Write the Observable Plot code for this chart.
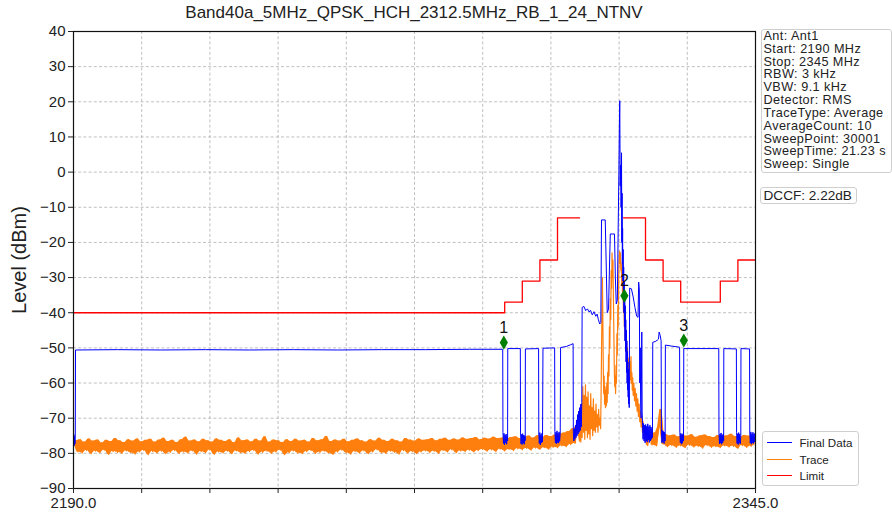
<!DOCTYPE html>
<html><head><meta charset="utf-8">
<script src="https://cdn.jsdelivr.net/npm/d3@7"></script>
<script src="https://cdn.jsdelivr.net/npm/@observablehq/plot@0.6"></script>
<style>
body{margin:0;background:#fff;font-family:"Liberation Sans",Arial,sans-serif;color:#222}
#wrap{position:relative;width:892px;height:519px;overflow:hidden}
.ov{position:absolute;white-space:nowrap}
.box{border:1px solid #cfcfcf;border-radius:3px;background:#fff;box-sizing:border-box}
</style>
</head><body><div id="wrap"></div>
<script>
// ---------- data ----------
const chartTitle = "Band40a_5MHz_QPSK_HCH_2312.5MHz_RB_1_24_NTNV";
const yLabel = "Level (dBm)";
const freqDomain = [2190, 2345];
const xTickStep = 15.5;
const levelDomain = [-90, 40];
const infoLines = ["Ant: Ant1","Start: 2190 MHz","Stop: 2345 MHz","RBW: 3 kHz","VBW: 9.1 kHz","Detector: RMS","TraceType: Average","AverageCount: 10","SweepPoint: 30001","SweepTime: 21.23 s","Sweep: Single"];
const dccfText = "DCCF: 2.22dB";
const seriesNames = ["Final Data","Trace","Limit"];
const seriesColors = ["#0000ff","#ff7f0e","#ff0000"];

// Limit segments: start MHz, end MHz, level dBm, side
const limitStart = [2190, 2288, 2292, 2296, 2300, 2315, 2320, 2324, 2328, 2337, 2341];
const limitEnd   = [2288, 2292, 2296, 2300, 2305, 2320, 2324, 2328, 2337, 2341, 2345];
const limitLevel = [-40, -37, -31, -25, -13, -13, -25, -31, -37, -31, -25];
const limitSide  = ["L","L","L","L","L","R","R","R","R","R","R"];

// Markers
const markerFreq  = [2287.8, 2315.2, 2328.7];
const markerLevel = [-48.5, -35.2, -47.9];
const markerLabel = ["1", "2", "3"];

// Trace (orange): noise floor sampled every 0.5 MHz from 2190 to 2304.5
const noiseLeftStart = 2190, noiseStep = 0.5;
const noiseLeft = [
-77.8,-76.4,-79.6,-76.1,-79.9,-76.8,-79.2,-75.9,-80.1,-76.5,-79.4,-76.2,-79.8,-77.0,-79.1,-76.3,-80.3,-76.6,-79.5,-75.8,
-79.7,-76.4,-80.0,-76.9,-79.3,-76.1,-79.8,-76.5,-80.2,-75.9,-79.6,-76.7,-79.2,-76.3,-80.4,-76.0,-79.5,-76.8,-79.9,-76.2,
-79.4,-75.7,-80.1,-76.6,-79.7,-76.3,-79.2,-76.9,-80.0,-76.1,-79.6,-75.4,-79.9,-76.5,-79.3,-76.2,-80.2,-76.7,-79.5,-76.0,
-79.8,-76.4,-79.1,-76.8,-80.3,-75.9,-79.6,-76.3,-79.9,-76.6,-79.4,-76.1,-80.1,-76.9,-79.3,-75.6,-79.8,-76.4,-80.0,-76.2,
-79.5,-76.7,-79.2,-76.0,-80.2,-76.5,-79.7,-75.3,-79.4,-76.8,-80.0,-76.2,-79.6,-76.4,-79.1,-76.9,-80.4,-76.1,-79.8,-76.6,
-79.3,-76.0,-79.9,-76.5,-80.1,-76.3,-79.5,-76.8,-79.2,-75.8,-80.0,-76.4,-79.7,-76.1,-79.4,-75.2,-79.9,-76.6,-80.3,-76.2,
-79.6,-76.5,-79.1,-76.0,-79.8,-76.7,-80.2,-76.3,-79.5,-75.9,-79.9,-76.4,-79.3,-76.8,-80.1,-76.1,-79.6,-76.5,-79.0,-75.7,
-79.8,-76.3,-80.0,-76.6,-79.4,-76.0,-79.7,-76.4,-80.2,-76.8,-79.2,-75.8,-79.9,-76.2,-79.5,-76.5,-80.1,-75.9,-79.6,-76.3,
-79.3,-76.1,-79.7,-75.8,-79.4,-76.4,-80.0,-76.0,-79.2,-75.7,-79.6,-76.3,-79.0,-75.9,-79.8,-76.2,-79.3,-75.6,-79.5,-76.0,
-79.1,-75.8,-79.6,-75.5,-79.2,-76.1,-78.9,-75.7,-79.4,-75.9,-79.0,-75.4,-79.5,-75.8,-78.8,-75.6,-79.3,-75.9,-78.9,-75.5,
-79.2,-75.3,-78.7,-75.8,-79.0,-75.4,-78.6,-75.1,-79.1,-75.6,-78.5,-75.0,-78.9,-75.5,-78.4,-74.9,-78.8,-75.2,-78.3,-74.8,
-78.4,-74.6,-77.9,-74.2,-78.1,-73.8,-77.5,-73.0,-77.2,-72.2
];
// Trace around the carrier (MHz, dBm)
const traceCenter = [
[2305.0,-76.5],[2305.15,-71.0],[2305.3,-76.8],[2305.45,-66.0],[2305.6,-75.5],[2305.75,-61.0],[2305.9,-74.0],[2306.05,-63.5],
[2306.2,-76.0],[2306.35,-60.5],[2306.5,-73.5],[2306.65,-64.0],[2306.8,-75.5],[2306.95,-62.5],[2307.1,-74.5],[2307.25,-66.5],
[2307.4,-76.0],[2307.55,-63.0],[2307.7,-73.0],[2307.85,-67.0],[2308.0,-75.0],[2308.15,-64.5],[2308.3,-73.5],[2308.45,-68.0],
[2308.6,-74.0],[2308.75,-66.0],[2308.9,-72.5],[2309.05,-69.0],[2309.2,-74.0],[2309.35,-67.5],[2309.5,-72.0],[2309.65,-70.0],
[2309.8,-73.0],[2309.9,-64.0],[2310.0,-52.0],[2310.1,-40.0],[2310.2,-30.0],[2310.3,-41.0],[2310.4,-55.0],[2310.5,-63.0],
[2310.6,-58.0],[2310.7,-66.0],[2310.8,-61.0],[2310.9,-67.0],[2311.0,-62.0],[2311.1,-66.5],[2311.2,-60.0],[2311.3,-65.5],
[2311.4,-57.0],[2311.5,-63.0],[2311.6,-52.0],[2311.7,-58.0],[2311.8,-44.0],[2311.9,-50.0],[2312.0,-36.0],[2312.1,-42.0],
[2312.2,-28.0],[2312.3,-33.0],[2312.4,-23.0],[2312.5,-30.0],[2312.6,-25.0],[2312.7,-35.0],[2312.8,-45.0],[2312.9,-55.0],
[2313.0,-61.0],[2313.1,-58.0],[2313.2,-63.0],[2313.3,-55.0],[2313.4,-60.0],[2313.5,-46.0],[2313.6,-52.0],[2313.7,-38.0],
[2313.8,-44.0],[2313.9,-30.0],[2314.0,-25.0],[2314.1,-22.5],[2314.2,-26.0],[2314.3,-23.0],[2314.4,-28.0],[2314.5,-26.0],
[2314.6,-32.0],[2314.7,-30.0],[2314.8,-36.0],[2314.9,-34.0],[2315.0,-40.0],[2315.1,-38.0],[2315.2,-44.0],[2315.3,-42.0],
[2315.4,-48.0],[2315.5,-45.0],[2315.6,-51.0],[2315.7,-48.0],[2315.8,-53.0],[2315.9,-50.0],[2316.0,-56.0],[2316.1,-53.0],
[2316.2,-58.0],[2316.3,-55.0],[2316.4,-60.0],[2316.5,-54.0],[2316.6,-59.0],[2316.7,-52.5],[2316.8,-60.0],[2316.9,-57.0],
[2317.0,-62.0],[2317.1,-58.5],[2317.2,-63.5],[2317.35,-60.0],[2317.5,-65.0],[2317.65,-61.5],[2317.8,-66.5],[2317.95,-63.0],
[2318.1,-68.0],[2318.25,-64.5],[2318.4,-69.5],[2318.55,-66.0],[2318.7,-71.0],[2318.85,-68.0],[2319.0,-72.5],[2319.15,-69.5],
[2319.3,-74.0],[2319.45,-71.0],[2319.6,-75.5],[2319.75,-72.5],[2319.9,-76.5],[2320.05,-73.0],[2320.2,-77.5],[2320.35,-73.5],
[2320.5,-77.8]
];
// Trace noise floor every 0.5 MHz from 2321 to 2345
const noiseRightStart = 2321;
const noiseRight = [
-73.8,-77.6,-74.2,-77.9,-72.5,-67.5,-77.4,-74.6,
-78.1,-75.0,-77.8,-74.8,-78.3,-75.3,-77.9,-74.9,-78.4,-75.1,-77.7,-74.7,-78.2,-75.4,-78.0,-75.0,-78.5,-74.8,-77.8,-75.2,
-78.3,-75.5,-78.1,-74.9,-78.4,-75.3,-77.9,-75.0,-78.2,-74.6,-78.0,-75.2,-78.6,-75.4,-77.8,-74.9,-78.3,-75.1,-78.0,-75.3,-77.8
];

// Final Data (blue): (MHz, dBm)
const finalLeft = [
[2190.00,-77.0],[2190.08,-74.6],[2190.16,-77.8],[2190.24,-75.2],[2190.32,-77.3],[2190.40,-75.8],[2190.46,-50.6],
[2200,-50.5],[2210,-50.6],[2220,-50.5],[2230,-50.6],[2240,-50.5],[2250,-50.6],[2260,-50.5],[2270,-50.5],[2280,-50.4],[2287.55,-50.4],
[2287.60,-74.0],[2287.72,-77.2],[2287.84,-74.3],[2287.96,-77.6],[2288.08,-74.8],[2288.20,-77.0],[2288.32,-74.5],[2288.44,-77.4],[2288.56,-75.0],[2288.66,-76.5],[2288.70,-50.2],
[2291.55,-50.2],
[2291.60,-74.2],[2291.72,-77.3],[2291.84,-74.6],[2291.96,-77.5],[2292.08,-74.4],[2292.20,-77.1],[2292.32,-74.8],[2292.44,-77.4],[2292.56,-75.0],[2292.66,-76.4],[2292.70,-50.3],
[2295.70,-50.2],
[2295.75,-74.5],[2295.87,-77.2],[2295.99,-74.1],[2296.11,-77.6],[2296.23,-74.7],[2296.35,-77.0],[2296.47,-74.3],[2296.59,-76.8],[2296.70,-50.1],
[2299.35,-50.0],
[2299.40,-73.8],[2299.52,-77.0],[2299.64,-74.0],[2299.76,-77.3],[2299.88,-73.6],[2300.00,-76.9],[2300.12,-74.2],[2300.24,-77.1],[2300.36,-73.9],[2300.48,-76.6],[2300.62,-74.5],[2300.70,-49.9],
[2302.0,-49.6],[2303.0,-49.1],[2303.55,-48.8],
[2303.60,-74.0],[2303.72,-76.5],[2303.84,-73.0],[2303.96,-76.0],[2304.08,-72.0],[2304.20,-75.5],[2304.32,-70.5],[2304.44,-75.0],
[2304.56,-69.0],[2304.68,-74.5],[2304.80,-68.0],[2304.92,-74.0],[2305.04,-67.0],[2305.16,-73.5],[2305.28,-66.0],[2305.40,-72.5],[2305.52,-65.5]
];
const finalCenter = [
[2305.60,-38.5],[2306.0,-38.2],[2306.4,-39.4],[2306.8,-38.9],[2307.2,-39.8],[2307.5,-39.3],[2307.9,-40.6],[2308.3,-39.7],
[2308.7,-41.0],[2309.0,-40.4],[2309.3,-42.0],[2309.6,-43.2],[2309.85,-42.8],
[2310.0,-13.6],[2310.85,-13.6],[2311.05,-25.0],[2311.3,-40.0],[2311.6,-39.0],[2311.85,-25.0],
[2312.0,-17.6],[2312.95,-17.6],[2313.15,-30.0],[2313.35,-37.5],[2313.6,-36.5],
[2313.8,-15.0],[2313.95,0.0],[2314.05,12.0],[2314.15,20.3],[2314.25,-4.0],[2314.35,2.0],[2314.45,-10.0],[2314.55,5.5],
[2314.62,-20.0],[2314.68,-6.0],[2314.74,-26.0],[2314.80,-16.0],[2314.86,-31.0],[2314.92,-22.0],[2314.98,-36.0],[2315.04,-27.0],
[2315.10,-40.0],[2315.16,-31.0],[2315.22,-44.0],[2315.28,-35.0],[2315.34,-48.0],[2315.40,-38.0],[2315.46,-51.0],[2315.52,-42.0],
[2315.58,-54.0],[2315.64,-45.0],[2315.70,-57.0],[2315.76,-48.0],[2315.82,-60.0],[2315.88,-51.0],[2315.94,-62.0],[2316.00,-54.0],
[2316.06,-64.0],[2316.12,-56.0],[2316.18,-66.0],[2316.24,-58.0],[2316.30,-67.0]
];
const finalRight = [
[2316.4,-33.0],[2316.8,-33.2],[2317.2,-35.5],[2317.6,-38.5],[2318.0,-41.0],[2318.3,-41.3],[2318.45,-31.3],[2318.6,-33.5],
[2318.7,-60.0],[2318.8,-50.0],[2318.9,-66.0],[2319.0,-70.0],[2319.08,-58.0],[2319.16,-45.5],[2319.24,-68.0],[2319.32,-72.0],
[2319.44,-76.0],[2319.56,-71.5],[2319.68,-76.5],[2319.80,-72.0],[2319.92,-77.0],[2320.04,-71.8],[2320.16,-76.4],[2320.28,-72.3],
[2320.40,-76.8],[2320.52,-71.6],[2320.64,-76.2],[2320.76,-72.4],[2320.88,-76.9],[2321.00,-72.0],[2321.12,-76.5],[2321.24,-72.5],
[2321.36,-76.0],[2321.48,-73.0],[2321.58,-75.5],[2321.65,-48.4],[2322.2,-48.2],[2322.7,-47.8],[2322.95,-47.5],[2323.1,-45.5],
[2323.35,-46.5],[2323.55,-48.0],
[2323.62,-74.0],[2323.74,-77.0],[2323.86,-73.5],[2323.98,-76.8],[2324.10,-73.8],[2324.22,-77.2],[2324.34,-74.0],[2324.46,-76.5],
[2324.52,-49.2],[2326.0,-49.5],[2327.75,-49.8],
[2327.80,-74.0],[2327.92,-77.0],[2328.04,-74.3],[2328.16,-77.4],[2328.28,-74.6],[2328.40,-77.1],[2328.52,-74.4],[2328.64,-76.5],[2328.70,-50.2],
[2336.65,-50.2],
[2336.70,-74.2],[2336.82,-77.3],[2336.94,-74.5],[2337.06,-77.1],[2337.18,-74.2],[2337.30,-77.4],[2337.42,-74.7],[2337.54,-77.0],[2337.66,-74.6],[2337.76,-76.4],[2337.80,-50.2],
[2340.65,-50.3],
[2340.70,-74.0],[2340.82,-77.2],[2340.94,-74.4],[2341.06,-77.5],[2341.18,-74.1],[2341.30,-77.0],[2341.42,-74.5],[2341.54,-77.3],[2341.66,-75.0],[2341.70,-50.2],
[2343.65,-50.3],
[2343.70,-74.2],[2343.82,-77.1],[2343.94,-73.9],[2344.06,-77.4],[2344.18,-74.4],[2344.30,-77.0],[2344.42,-74.0],[2344.54,-77.2],[2344.66,-74.5],[2344.78,-76.8],[2344.90,-74.2],[2345.00,-76.0]
];

// ---------- tables ----------
const noiseLeftRows = noiseLeft.map((v, i) => ({f: noiseLeftStart + i * noiseStep, v}));
const noiseRightRows = noiseRight.map((v, i) => ({f: noiseRightStart + i * noiseStep, v}));
const traceRows = [...noiseLeftRows, ...traceCenter.map(([f, v]) => ({f, v})), ...noiseRightRows];
// noise floor band: consecutive samples paired into a low/high envelope
const bandRows = d3.pairs([...noiseLeftRows, ...noiseRightRows]).filter(([a, b]) => b.f - a.f < 1)
  .map(([a, b]) => ({f: (a.f + b.f) / 2, lo: Math.min(a.v, b.v), hi: Math.max(a.v, b.v), side: a.f < 2310 ? "L" : "R"}));
const finalRows = [...finalLeft, ...finalCenter, ...finalRight].map(([f, v]) => ({f, v}));
const limitRows = limitStart.flatMap((s, i) => [
  {f: s, v: limitLevel[i], side: limitSide[i]},
  {f: limitEnd[i], v: limitLevel[i], side: limitSide[i]}
]);
const markerRows = markerFreq.map((f, i) => ({f, v: markerLevel[i], label: markerLabel[i]}));
const xTicks = d3.range(0, 11).map(i => freqDomain[0] + i * xTickStep);
const yTicks = d3.range(levelDomain[0], levelDomain[1] + 1, 10);

const gridStyle = {stroke: "#b0b0b0", strokeOpacity: 1, strokeWidth: 0.8, strokeDasharray: "3,2.2"};

const chart = Plot.plot({
  width: 892, height: 519,
  marginLeft: 73, marginRight: 137, marginTop: 31, marginBottom: 31,
  style: {fontFamily: "'Liberation Sans', Arial, sans-serif", fontSize: "15px", color: "#222", background: "transparent", overflow: "visible"},
  x: {domain: freqDomain},
  y: {domain: levelDomain},
  marks: [
    Plot.gridX(xTicks.slice(1, -1), gridStyle),
    Plot.gridY(yTicks.slice(1, -1), gridStyle),
    Plot.areaY(bandRows, {x: "f", y1: "lo", y2: "hi", z: "side", fill: seriesColors[1], fillOpacity: 1}),
    Plot.line(traceRows, {x: "f", y: "v", stroke: seriesColors[1], strokeWidth: 1.2}),
    Plot.line(finalRows, {x: "f", y: "v", stroke: seriesColors[0], strokeWidth: 1}),
    Plot.line(limitRows, {x: "f", y: "v", z: "side", stroke: seriesColors[2], strokeWidth: 1.3}),
    Plot.dot(markerRows, {x: "f", y: "v", symbol: "diamond", r: 4.3, fill: "#008000", stroke: "none"}),
    Plot.text(markerRows, {x: "f", y: "v", text: "label", dy: -15, fontSize: 16, fill: "#111"}),
    Plot.frame({stroke: "#111", strokeWidth: 1.2}),
    Plot.axisX(xTicks, {tickSize: 5, tickPadding: 4, label: null, fontSize: 15,
      tickFormat: d => (d === freqDomain[0] || d === freqDomain[1]) ? d.toFixed(1) : ""}),
    Plot.axisY(yTicks, {tickSize: 5, tickPadding: 3, label: null, fontSize: 15})
  ]
});

const wrap = document.getElementById("wrap");
chart.style.position = "absolute"; chart.style.left = "0px"; chart.style.top = "0px";
wrap.appendChild(chart);

function ov(html, css, cls) {
  const d = document.createElement("div");
  d.className = "ov" + (cls ? " " + cls : "");
  d.innerHTML = html;
  Object.assign(d.style, css);
  wrap.appendChild(d);
  return d;
}
// title
ov(chartTitle, {left: "73px", width: "682px", top: "3px", textAlign: "center", fontSize: "17px", lineHeight: "20px"});
// y label
ov(yLabel, {left: "18.5px", top: "260px", fontSize: "20px", transform: "translate(-50%,-50%) rotate(-90deg)"});
// info box
ov(infoLines.join("<br>"), {left: "761px", top: "29px", width: "131px", height: "144px", padding: "0 0 0 1.5px", fontSize: "12.7px", letterSpacing: "0.4px", lineHeight: "12.83px"}, "box");
// DCCF box
ov(dccfText, {left: "760px", top: "187px", width: "97px", height: "17px", padding: "0 0 0 2.5px", fontSize: "13.6px", lineHeight: "15px"}, "box");
// legend
const leg = ov("", {left: "762px", top: "431px", width: "97px", height: "55px"}, "box");
seriesNames.forEach((name, i) => {
  const row = document.createElement("div");
  Object.assign(row.style, {position: "absolute", left: "3.5px", top: (2.5 + i * 16.7) + "px", height: "16px", display: "flex", alignItems: "center", fontSize: "11.6px"});
  row.innerHTML = `<span style="display:inline-block;width:25px;height:0;border-top:1.5px solid ${seriesColors[i]};margin-right:8px"></span>${name}`;
  leg.appendChild(row);
});
</script>
</body></html>
